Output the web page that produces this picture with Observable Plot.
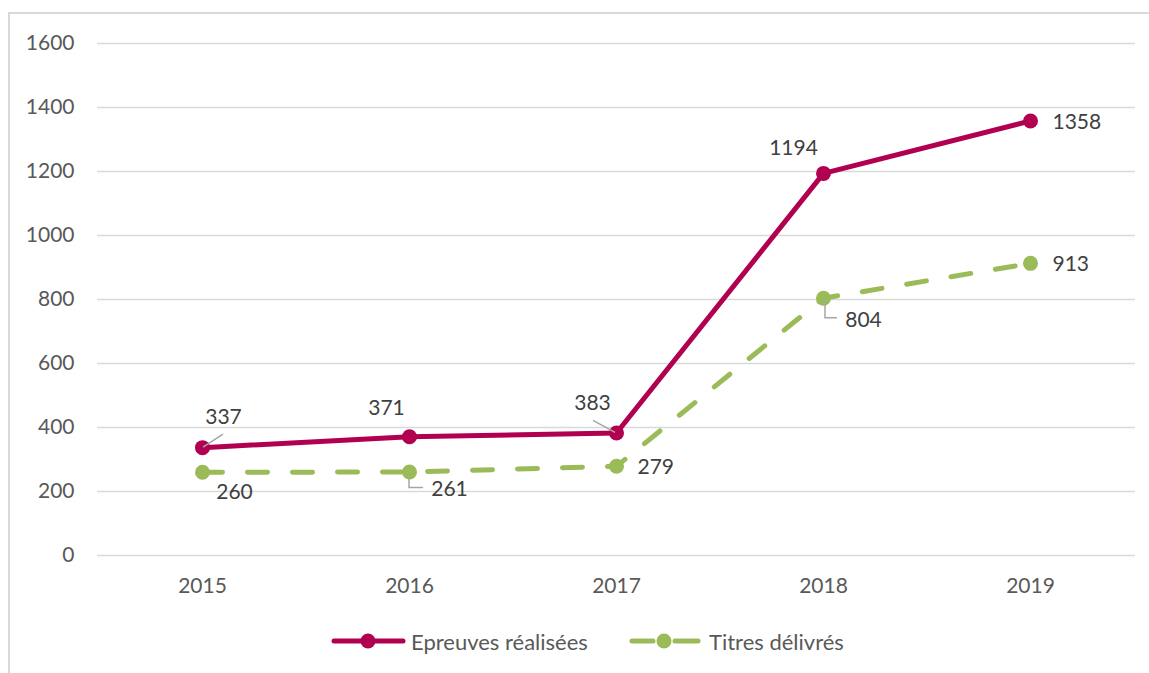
<!DOCTYPE html>
<html>
<head>
<meta charset="utf-8">
<script src="https://cdn.jsdelivr.net/npm/d3@7"></script>
<script src="https://cdn.jsdelivr.net/npm/@observablehq/plot@0.6"></script>
<style>
  html, body { margin: 0; padding: 0; background: #fff; width: 1149px; height: 673px; overflow: hidden; font-family: Lato, "Open Sans", sans-serif; }
  #chart { position: absolute; left: 0; top: 0; }
  #frame { position: absolute; left: 8px; top: 12px; width: 1300px; height: 800px; border-left: 2px solid #d9d9d9; border-top: 2px solid #d9d9d9; pointer-events: none; z-index: 2; }
  .leg { position: absolute; top: 628px; height: 26px; display: flex; align-items: center; font-size: 22px; color: #595959; white-space: nowrap; }
  .leg svg { display: block; margin-right: 2px; }
</style>
</head>
<body>
<div id="chart"></div>
<div id="frame"></div>
<div id="legend"></div>
<script>
// ---- Data ----
const years = ["2015", "2016", "2017", "2018", "2019"];
const epreuves = [337, 371, 383, 1194, 1358];
const titres = [260, 261, 279, 804, 913];
const seriesNames = ["Epreuves réalisées", "Titres délivrés"];
const yTicks = [0, 200, 400, 600, 800, 1000, 1200, 1400, 1600];

// ---- Styles ----
const colE = "#B0004F";
const colT = "#9BBB59";
const labelColor = "#404040";
const leaderColor = "#a6a6a6";

// label placement (pixel offsets from each point)
const placeE = [
  {dx: 21, dy: -30, a: "middle"},
  {dx: -23, dy: -29, a: "middle"},
  {dx: -24, dy: -30, a: "middle"},
  {dx: -30, dy: -25, a: "middle"},
  {dx: 22, dy: 1, a: "start"}
];
const placeT = [
  {dx: 32, dy: 20, a: "middle"},
  {dx: 40, dy: 17, a: "middle"},
  {dx: 21, dy: 1, a: "start"},
  {dx: 40, dy: 22, a: "middle"},
  {dx: 22, dy: 1, a: "start"}
];
// leader line shapes (pixel offsets from the point)
const leaders = [
  {series: "E", i: 0, pts: [[1, 0], [21, -13]]},
  {series: "E", i: 2, pts: [[-1, 0], [-23, -12]]},
  {series: "T", i: 1, pts: [[0, 6], [0, 16], [14, 16]]},
  {series: "T", i: 3, pts: [[2, 2], [2, 20], [14, 20]]}
];

const dataE = years.map((y, i) => ({year: y, value: epreuves[i]}));
const dataT = years.map((y, i) => ({year: y, value: titres[i]}));

function labelMarks(data, place) {
  return data.map((d, i) => Plot.text([d], {
    x: "year", y: "value", text: d => String(d.value),
    dx: place[i].dx, dy: place[i].dy, textAnchor: place[i].a,
    lineAnchor: "middle", fill: labelColor, fontSize: 21
  }));
}

function leaderMark(index, scales) {
  const g = document.createElementNS("http://www.w3.org/2000/svg", "g");
  for (const l of leaders) {
    const arr = l.series === "E" ? epreuves : titres;
    const px = scales.x(years[l.i]);
    const py = scales.y(arr[l.i]);
    const p = document.createElementNS("http://www.w3.org/2000/svg", "polyline");
    p.setAttribute("points", l.pts.map(([dx, dy]) => `${px + dx},${py + dy}`).join(" "));
    p.setAttribute("fill", "none");
    p.setAttribute("stroke", leaderColor);
    p.setAttribute("stroke-width", 1.5);
    g.appendChild(p);
  }
  return g;
}

const chart = Plot.plot({
  width: 1149,
  height: 610,
  marginLeft: 97,
  marginRight: 14,
  marginTop: 43,
  marginBottom: 55,
  style: {fontFamily: "Lato, 'Open Sans', sans-serif", fontSize: "21px", color: "#595959", background: "transparent", overflow: "visible"},
  x: {type: "point", domain: years, padding: 0.5, label: null},
  y: {domain: [0, 1600], label: null},
  marks: [
    Plot.gridY(yTicks, {stroke: "#d9d9d9", strokeOpacity: 1, strokeWidth: 1.5}),
    Plot.axisY(yTicks, {tickSize: 0, tickPadding: 23, tickFormat: d => String(d), fontSize: 21, label: null}),
    Plot.axisX({tickSize: 0, tickPadding: 23, fontSize: 21, label: null}),
    Plot.line(dataT, {x: "year", y: "value", stroke: colT, strokeWidth: 5, strokeDasharray: "20,25", strokeLinecap: "round"}),
    Plot.dot(dataT, {x: "year", y: "value", r: 7.5, fill: colT, stroke: "none"}),
    Plot.line(dataE, {x: "year", y: "value", stroke: colE, strokeWidth: 5}),
    Plot.dot(dataE, {x: "year", y: "value", r: 7.5, fill: colE, stroke: "none"}),
    leaderMark,
    ...labelMarks(dataE, placeE),
    ...labelMarks(dataT, placeT)
  ]
});
document.getElementById("chart").appendChild(chart);

// ---- Legend (HTML below the plot) ----
const legend = document.getElementById("legend");
function legendItem(left, name, color, dashed) {
  const item = document.createElement("div");
  item.className = "leg";
  item.style.left = left + "px";
  const ns = "http://www.w3.org/2000/svg";
  const s = document.createElementNS(ns, "svg");
  s.setAttribute("width", 78); s.setAttribute("height", 26);
  if (dashed) {
    for (const [a, b] of [[3, 24], [46, 69]]) {
      const l = document.createElementNS(ns, "line");
      l.setAttribute("x1", a); l.setAttribute("x2", b); l.setAttribute("y1", 13); l.setAttribute("y2", 13);
      l.setAttribute("stroke", color); l.setAttribute("stroke-width", 5); l.setAttribute("stroke-linecap", "round");
      s.appendChild(l);
    }
    const c = document.createElementNS(ns, "circle");
    c.setAttribute("cx", 35); c.setAttribute("cy", 13); c.setAttribute("r", 7.5); c.setAttribute("fill", color);
    s.appendChild(c);
  } else {
    const l = document.createElementNS(ns, "line");
    l.setAttribute("x1", 3); l.setAttribute("x2", 72); l.setAttribute("y1", 13); l.setAttribute("y2", 13);
    l.setAttribute("stroke", color); l.setAttribute("stroke-width", 5); l.setAttribute("stroke-linecap", "round");
    s.appendChild(l);
    const c = document.createElementNS(ns, "circle");
    c.setAttribute("cx", 37); c.setAttribute("cy", 13); c.setAttribute("r", 7.5); c.setAttribute("fill", color);
    s.appendChild(c);
  }
  item.appendChild(s);
  const t = document.createElement("span");
  t.textContent = name;
  item.appendChild(t);
  legend.appendChild(item);
}
legendItem(331, seriesNames[0], colE, false);
legendItem(629, seriesNames[1], colT, true);
</script>
</body>
</html>
